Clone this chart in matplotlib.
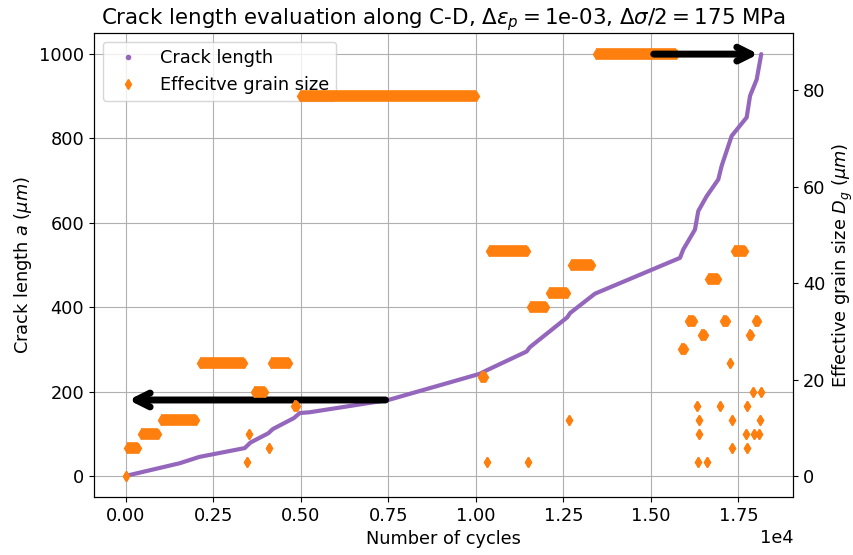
import numpy as np
import matplotlib
matplotlib.use("Agg")
from matplotlib import pyplot as plt
from matplotlib.lines import Line2D

plt.rcParams['font.size'] = 12.8

# crack length curve (cycles, crack length in um)
crack_cycles = [0, 1540, 2100, 3400, 3560, 4070, 4200, 4800, 4970, 5260, 7500,
                10110, 10300, 11450, 11540, 12610, 12690, 13400, 15830, 15924,
                16257, 16352, 16590, 16924, 17019, 17305, 17734, 17830, 18020, 18150]
crack_len = [0, 30, 45, 66, 79, 101, 111, 137, 149, 151, 180,
             242, 250, 295, 305, 376, 386, 432, 517, 537,
             584, 628, 663, 703, 735, 806, 850, 901, 940, 1000]

# effective grain size, stored as runs: first cycle, last cycle, size (um)
grain_start = [0, 40, 440, 1010, 2130, 4150, 3650, 4800, 3520, 3460, 4080,
               4970, 10160, 10320, 10370, 11500, 11560, 12100, 12670, 12720,
               13420, 15870, 16070, 16420, 16630, 17060, 17257, 17370, 17800,
               17970, 17905, 18134, 16314, 16971, 17743, 16362, 17314, 18114,
               16362, 17723, 17943, 18095, 17314, 17734, 16343, 16590]
grain_end = [0, 340, 910, 2010, 3380, 4670, 3990, 4880, 3520, 3460, 4080,
             10000, 10260, 10320, 11450, 11500, 12000, 12590, 12670, 13330,
             15710, 15980, 16240, 16540, 16910, 17160, 17257, 17690, 17860,
             18070, 17905, 18134, 16314, 16971, 17743, 16362, 17314, 18114,
             16362, 17723, 17943, 18095, 17314, 17734, 16343, 16590]
grain_size = [0, 5.83, 8.75, 11.67, 23.33, 23.33, 17.5, 14.58, 8.75, 2.92, 5.83,
              78.75, 20.42, 2.92, 46.67, 2.92, 35.0, 37.92, 11.67, 43.75,
              87.5, 26.25, 32.08, 29.17, 40.83, 32.08, 23.33, 46.67, 29.17,
              32.08, 17.5, 17.5, 14.58, 14.58, 14.58, 11.67, 11.67, 11.67,
              8.75, 8.75, 8.75, 8.75, 5.83, 5.83, 2.92, 2.92]

purple = '#9467bd'
orange = '#ff7f0e'
ms = 5.6

fig = plt.figure(figsize=(8.54, 5.55), dpi=100)
ax1 = fig.add_axes([0.110, 0.1045, 0.8186, 0.836])
ax2 = ax1.twinx()

ax1.plot(crack_cycles, crack_len, color=purple, lw=3, solid_capstyle='round')
ax1.grid(True)
ax1.set_xlabel('Number of cycles')
ax1.set_ylabel(r'Crack length $a$ ($\mu m$)')
ax1.ticklabel_format(axis='x', style='sci', scilimits=(0, 0))

# runs of grain-size points: thick line between the end markers
gs = np.array(grain_start)
ge = np.array(grain_end)
gv = np.array(grain_size)
runs = ge > gs
ax2.hlines(gv[runs], gs[runs], ge[runs], color=orange, lw=8.4)
ax2.plot(np.concatenate([gs, ge]), np.concatenate([gv, gv]), 'd',
         color=orange, ms=ms, linestyle='none')
ax2.set_ylabel(r'Effective grain size $D_g$ ($\mu m$)')

ax1.set_ylim(-50, 1050)
ax2.set_ylim(-4.375, 91.875)

ax1.annotate('', xy=(0, 180), xytext=(7500, 180),
             arrowprops=dict(arrowstyle='->', lw=5, color='k', mutation_scale=25))
ax2.annotate('', xy=(18150, 87.5), xytext=(15000, 87.5),
             arrowprops=dict(arrowstyle='->', lw=5, color='k', mutation_scale=25))

handles = [Line2D([], [], marker='.', ls='none', color=purple, label='Crack length'),
           Line2D([], [], marker='d', ls='none', color=orange, ms=ms,
                  label='Effecitve grain size')]
ax1.legend(handles=handles, loc='upper left')

ax1.set_title(r'Crack length evaluation along C-D, $\Delta\varepsilon_p = $1e-03, '
              r'$\Delta\sigma/2 = 175$ MPa', fontsize=15.4)

fig.savefig('out.png', dpi=100)
